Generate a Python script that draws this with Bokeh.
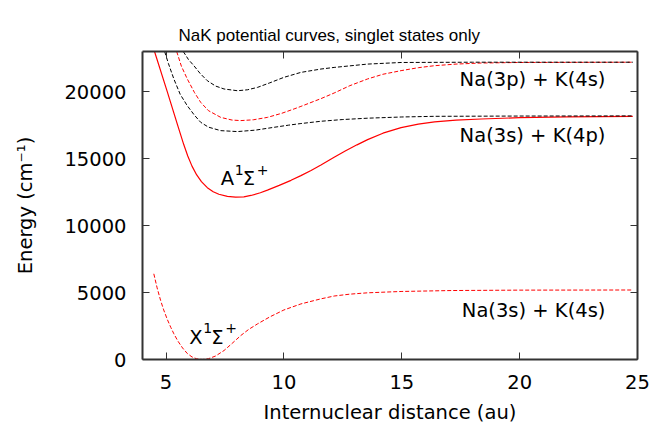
from bokeh.plotting import figure
from bokeh.models import Range1d, FixedTicker, LinearAxis
from bokeh.embed import file_html
from bokeh.resources import INLINE
from bokeh.core.properties import value

# ---------------- data ----------------
# X 1Sigma+ ground state -> Na(3s)+K(4s)
r_X = [4.48, 4.62, 4.77, 4.90, 5.05, 5.20, 5.33, 5.50, 5.70, 5.90, 6.10, 6.30,
       6.54, 6.80, 7.10, 7.46, 7.80, 8.17, 8.50, 8.88, 9.40, 10.0, 10.72, 11.57,
       12.13, 12.80, 13.55, 14.97, 17.1, 20.0, 24.8]
E_X = [6400, 5350, 4400, 3700, 3000, 2400, 1920, 1380, 860, 450, 190, 50,
       0, 60, 260, 672, 1200, 1790, 2240, 2660, 3180, 3700, 4150, 4530,
       4740, 4880, 4980, 5080, 5150, 5180, 5190]

# A 1Sigma+ state (solid red) -> Na(3s)+K(4p)
r_A = [4.51, 5.05, 5.50, 5.75, 5.92, 6.10, 6.30, 6.50, 6.75, 7.00, 7.24, 7.60,
       7.95, 8.30, 8.60, 9.00, 9.30, 9.80, 10.30, 10.72, 11.15, 11.57, 12.13,
       12.60, 13.10, 13.55, 14.20, 14.97, 15.70, 16.39, 17.30, 18.37, 20.0,
       22.0, 24.8]
E_A = [23000, 20000, 17450, 16050, 15200, 14440, 13780, 13280, 12830, 12530,
       12340, 12180, 12120, 12150, 12250, 12450, 12650, 13000, 13380, 13730,
       14120, 14530, 15100, 15570, 16030, 16420, 16900, 17320, 17580, 17750,
       17880, 17960, 18060, 18120, 18160]

# lower black dashed -> Na(3s)+K(4p)
r_B = [4.94, 5.10, 5.33, 5.60, 5.90, 6.20, 6.47, 6.80, 7.32, 8.03, 8.80, 9.58,
       10.20, 10.72, 11.57, 12.50, 13.55, 15.0, 16.39, 20.0, 24.8]
E_B = [23000, 22100, 20950, 19800, 18950, 18250, 17710, 17350, 17090, 17020,
       17130, 17340, 17500, 17620, 17790, 17920, 18020, 18110, 18160, 18180,
       18190]

# red dashed -> Na(3p)+K(4s)
r_C = [5.45, 5.65, 5.90, 6.20, 6.47, 6.80, 7.32, 7.80, 8.17, 8.70, 9.30, 9.90,
       10.43, 10.72, 11.57, 12.13, 12.80, 13.55, 14.20, 14.97, 15.70, 16.39,
       17.30, 18.37, 20.0, 24.8]
E_C = [23000, 21900, 20950, 19950, 19200, 18580, 18080, 17880, 17840, 17900,
       18080, 18380, 18710, 18900, 19480, 19900, 20450, 20950, 21300, 21570,
       21790, 21940, 22060, 22140, 22180, 22200]

# upper black dashed -> Na(3p)+K(4s)
r_D = [5.73, 5.95, 6.18, 6.45, 6.75, 7.10, 7.46, 8.03, 8.45, 8.88, 9.40, 10.0,
       10.72, 11.57, 12.13, 13.55, 14.97, 18.0, 24.8]
E_D = [23000, 22400, 21940, 21350, 20820, 20420, 20200, 20070, 20140, 20320,
       20660, 21070, 21440, 21690, 21810, 22060, 22180, 22200, 22200]

x_ticks = [5, 10, 15, 20, 25]
y_ticks = [0, 5000, 10000, 15000, 20000]

asym_labels = ["Na(3p) + K(4s)", "Na(3s) + K(4p)", "Na(3s) + K(4s)"]
asym_x = [23.64, 23.64, 23.64]
asym_y = [20900, 16750, 3680]

TITLE = "NaK potential curves, singlet states only"

FONT = "DejaVu Sans"
FS = "19.5px"
AX = "#333333"

p = figure(width=650, height=426, output_backend="svg", toolbar_location=None,
           x_range=Range1d(4, 25), y_range=Range1d(0, 23000),
           min_border_left=142, min_border_right=13, min_border_top=51,
           min_border_bottom=67, title=TITLE)
p.background_fill_color = "white"
p.border_fill_color = "white"
p.outline_line_color = None
p.grid.visible = False

p.title.text_font = "Liberation Sans"
p.title.text_font_size = "17px"
p.title.text_font_style = "normal"
p.title.text_color = "black"
p.title.align = "left"
p.title.offset = 36
p.title.standoff = 14

def style_axis(ax, labels=True):
    ax.axis_line_color = AX
    ax.axis_line_width = 2
    ax.major_tick_line_color = AX
    ax.major_tick_line_width = 1
    ax.major_tick_in = 7
    ax.major_tick_out = 0
    ax.minor_tick_line_color = None
    ax.major_label_text_font = FONT
    ax.major_label_text_font_size = FS if labels else "0px"
    ax.major_label_text_color = "black" if labels else None
    ax.axis_label_text_font = FONT
    ax.axis_label_text_font_size = FS
    ax.axis_label_text_font_style = "normal"
    ax.axis_label_text_color = "black"

xa = p.xaxis[0]
ya = p.yaxis[0]
xa.ticker = FixedTicker(ticks=x_ticks)
ya.ticker = FixedTicker(ticks=y_ticks)
style_axis(xa)
style_axis(ya)
xa.major_label_standoff = 15
ya.major_label_standoff = 16
xa.axis_label = "Internuclear distance (au)"
ya.axis_label = "Energy (cm\u207b\u00b9)"
xa.axis_label_standoff = 9
ya.axis_label_standoff = 24

top = LinearAxis(ticker=FixedTicker(ticks=x_ticks))
right = LinearAxis(ticker=FixedTicker(ticks=y_ticks))
for ax in (top, right):
    style_axis(ax, labels=False)
    ax.major_label_standoff = 0
# the mirrored top axis carries blank tick labels that only reserve the
# space between the frame and the title
top.major_label_overrides = {t: "" for t in x_ticks}
top.major_label_text_font_size = "10px"
top.major_label_standoff = 2
p.add_layout(top, "above")
p.add_layout(right, "right")

DASH = "4 2"
p.line(r_X, E_X, line_color="#ff0000", line_width=1, line_dash=DASH)
p.line(r_A, E_A, line_color="#ff0000", line_width=1.2)
p.line(r_B, E_B, line_color="black", line_width=1, line_dash=DASH)
p.line(r_C, E_C, line_color="#ff0000", line_width=1, line_dash=DASH)
p.line(r_D, E_D, line_color="black", line_width=1, line_dash=DASH)

p.text(x=asym_x, y=asym_y, text=asym_labels, text_align="right",
       text_baseline="middle", text_font=value(FONT), text_font_size=FS,
       text_color="black")

def term(x0, y0, letter):
    base = dict(text_font=value(FONT), text_color="black",
                text_align="left", text_baseline="alphabetic")
    p.text(x=[x0], y=[y0], text=[letter], text_font_size=FS, **base)
    p.text(x=[x0], y=[y0], text=["1"], x_offset=14, y_offset=-9,
           text_font_size="14px", **base)
    p.text(x=[x0], y=[y0], text=["\u03a3"], x_offset=22,
           text_font_size=FS, **base)
    p.text(x=[x0], y=[y0], text=["+"], x_offset=36, y_offset=-9,
           text_font_size="14px", **base)

term(7.32, 13500, "A")
term(5.98, 1660, "X")

open("out.html", "w").write(file_html(p, INLINE))
